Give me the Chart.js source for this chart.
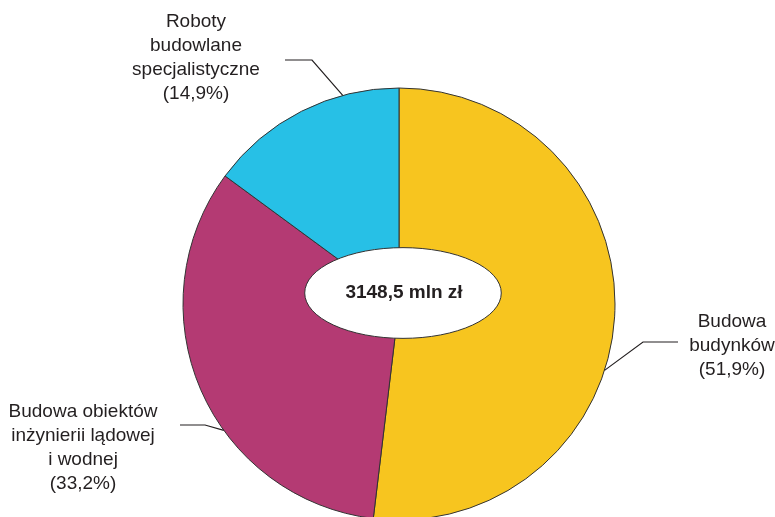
<!DOCTYPE html>
<html>
<head>
<meta charset="utf-8">
<script src="https://cdn.jsdelivr.net/npm/chart.js@4/dist/chart.umd.min.js"></script>
<style>
html,body{margin:0;padding:0;background:#fff;}
#wrap{width:775px;height:517px;position:relative;}
</style>
</head>
<body>
<div id="wrap"><canvas id="c"></canvas></div>
<script>
const categories = ['Budowa budynków', 'Budowa obiektów inżynierii lądowej i wodnej', 'Roboty budowlane specjalistyczne'];
const shares = [51.9, 33.2, 14.9];
const labelLines = [
  ['Budowa', 'budynków', '(51,9%)'],
  ['Budowa obiektów', 'inżynierii lądowej', 'i wodnej', '(33,2%)'],
  ['Roboty', 'budowlane', 'specjalistyczne', '(14,9%)']
];
const totalText = '3148,5 mln zł';
const colors = ['#F7C51F', '#B43A73', '#27C0E6'];

// label layout: text centre, first line y, leader elbow, leader horizontal end, anchor angle (deg from top, clockwise)
const labelLayout = [
  {tx: 732, ty: 322, hx1: 678, hx2: 643, hy: 342, ang: 107.9},
  {tx: 83,  ty: 412, hx1: 180, hx2: 205, hy: 425, ang: 234.2},
  {tx: 196, ty: 22,  hx1: 285, hx2: 312, hy: 60,  ang: 344.9}
];

const overlay = {
  id: 'overlay',
  afterDatasetsDraw(chart) {
    const ctx = chart.ctx;
    const arc = chart.getDatasetMeta(0).data[0];
    const cx = arc.x, cy = arc.y, r = arc.outerRadius;
    // centre ellipse
    ctx.save();
    ctx.beginPath();
    ctx.ellipse(cx + 4, cy - 11, r * 0.455, r * 0.21, 0, 0, Math.PI * 2);
    ctx.fillStyle = '#fff';
    ctx.fill();
    ctx.lineWidth = 1;
    ctx.strokeStyle = '#333';
    ctx.stroke();
    ctx.fillStyle = '#231f20';
    ctx.font = 'bold 19px "Liberation Sans", Arial, sans-serif';
    ctx.textAlign = 'center';
    ctx.textBaseline = 'middle';
    ctx.fillText(totalText, cx + 5, cy - 11);
    // labels
    ctx.font = '19px "Liberation Sans", Arial, sans-serif';
    labelLines.forEach((lines, i) => {
      const L = labelLayout[i];
      lines.forEach((t, k) => ctx.fillText(t, L.tx, L.ty + k * 24));
      const a = L.ang * Math.PI / 180;
      const ax = cx + r * Math.sin(a), ay = cy - r * Math.cos(a);
      ctx.beginPath();
      ctx.moveTo(L.hx1, L.hy);
      ctx.lineTo(L.hx2, L.hy);
      ctx.lineTo(ax, ay);
      ctx.strokeStyle = '#231f20';
      ctx.lineWidth = 1.2;
      ctx.stroke();
    });
    ctx.restore();
  }
};

new Chart(document.getElementById('c'), {
  type: 'pie',
  data: {
    labels: categories,
    datasets: [{
      data: shares,
      backgroundColor: colors,
      borderColor: '#333',
      borderWidth: 1,
      radius: 216,
      clip: false
    }]
  },
  options: {
    responsive: true,
    maintainAspectRatio: false,
    animation: false,
    layout: {padding: {left: 23, right: 0, top: 91, bottom: 0}},
    plugins: {legend: {display: false}, tooltip: {enabled: false}}
  },
  plugins: [overlay]
});
</script>
</body>
</html>
